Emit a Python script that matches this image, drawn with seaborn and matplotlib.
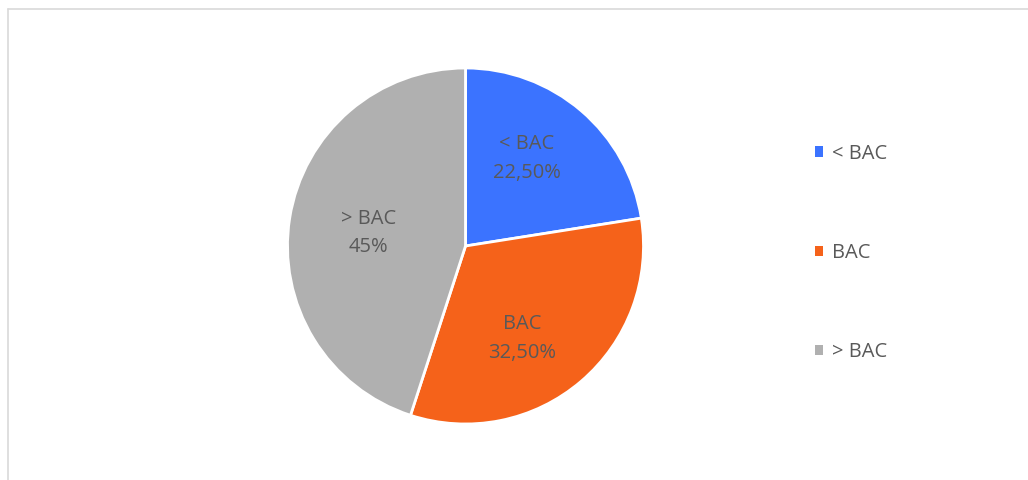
import matplotlib
matplotlib.use("Agg")
import matplotlib.pyplot as plt
from matplotlib.lines import Line2D
from matplotlib.patches import Patch
import numpy as np
import seaborn as sns

# Share of respondents by education level
categories = ["< BAC", "BAC", "> BAC"]
shares = [22.5, 32.5, 45.0]
value_labels = ["22,50%", "32,50%", "45%"]
colors = ["#3b73ff", "#f5621a", "#b0b0b0"]

sns.set_theme(style="white")
plt.rcParams["font.family"] = ["Open Sans", "DejaVu Sans"]
text_color = "#595959"

W, H = 1028, 480
fig = plt.figure(figsize=(W / 100, H / 100), dpi=100)
fig.patch.set_facecolor("white")

# pie centred at (465, 246) px with radius ~178 px
cx, cy, r = 465.5, 246, 178
ax = fig.add_axes([(cx - r) / W, (H - cy - r) / H, 2 * r / W, 2 * r / H])
wedges, _ = ax.pie(
    shares,
    colors=colors,
    startangle=90,
    counterclock=False,
    wedgeprops=dict(edgecolor="white", linewidth=2),
)
ax.set_xlim(-1, 1)
ax.set_ylim(-1, 1)
ax.set_aspect("equal")
ax.axis("off")

# category + value label inside each wedge (radial distance, angular nudge)
label_dist = [0.60, 0.61, 0.55]
label_nudge = [5.5, -9.0, 1.3]
for w, cat, lab, d, nd in zip(wedges, categories, value_labels, label_dist, label_nudge):
    mid = np.deg2rad((w.theta1 + w.theta2) / 2 + nd)
    ax.text(d * np.cos(mid), d * np.sin(mid), f"{cat}\n{lab}",
            ha="center", va="center", fontsize=14.5, color=text_color,
            linespacing=1.55)

# legend on the right
handles = [Patch(facecolor=c, edgecolor="none") for c in colors]
fig.legend(handles, categories, loc="center left",
           bbox_to_anchor=(815 / W, 1 - 253 / H), frameon=False,
           fontsize=14.5, labelcolor=text_color, labelspacing=3.93,
           handlelength=0.42, handleheight=0.42, handletextpad=0.4,
           borderpad=0, borderaxespad=0)

# thin chart border (left and top edges)
border = "#d9d9d9"
fig.add_artist(Line2D([7.5 / W, 7.5 / W], [0, 1 - 8.5 / H], color=border, lw=1.2))
fig.add_artist(Line2D([7.5 / W, 1], [1 - 8.5 / H, 1 - 8.5 / H], color=border, lw=1.2))

fig.savefig("out.png", dpi=100, facecolor="white")
